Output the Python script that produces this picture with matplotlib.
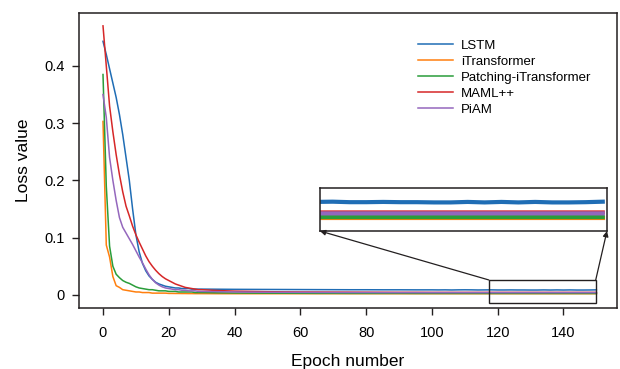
import numpy as np
import matplotlib.pyplot as plt
from matplotlib.patches import Rectangle, ConnectionPatch

plt.rcParams['font.family'] = ['Liberation Sans', 'DejaVu Sans']

epochs = list(range(0, 31)) + list(range(35, 101, 5)) + list(range(102, 151, 2))

lstm = [0.443, 0.420, 0.395, 0.370, 0.345, 0.315, 0.280, 0.240, 0.200, 0.150,
        0.105, 0.075, 0.055, 0.042, 0.033, 0.027, 0.022, 0.019, 0.017, 0.015,
        0.014, 0.013, 0.012, 0.012, 0.011, 0.011, 0.011, 0.010, 0.010, 0.010, 0.010,
        0.0098, 0.0096, 0.0095, 0.0094, 0.0093, 0.0092, 0.0091, 0.0090, 0.0089, 0.0089,
        0.0088, 0.0088, 0.0087, 0.0087,
        0.0086, 0.0087, 0.0085, 0.0087, 0.0088, 0.0087, 0.0085, 0.0086, 0.0087, 0.0085,
        0.0085, 0.0086, 0.0085, 0.0085, 0.0084, 0.0084, 0.0086, 0.0084, 0.0086, 0.0084,
        0.0086, 0.0084, 0.0084, 0.0085, 0.0087]
itrans = [0.303, 0.087, 0.066, 0.032, 0.016, 0.013, 0.009, 0.008, 0.007, 0.006,
          0.005, 0.005, 0.004, 0.004, 0.004, 0.003, 0.003, 0.003, 0.003, 0.003,
          0.0025, 0.0025, 0.0024, 0.0024, 0.0023, 0.0023, 0.0022, 0.0022, 0.0021, 0.0021, 0.0021,
          0.0020, 0.0020, 0.0020, 0.0020, 0.0020, 0.0020, 0.0020, 0.0020, 0.0020, 0.0020,
          0.0020, 0.0020, 0.0020, 0.0020,
          0.0020, 0.0020, 0.0020, 0.0020, 0.0020, 0.0020, 0.0020, 0.0020, 0.0020, 0.0020,
          0.0020, 0.0020, 0.0020, 0.0020, 0.0020, 0.0020, 0.0020, 0.0020, 0.0020, 0.0020,
          0.0020, 0.0020, 0.0020, 0.0020, 0.0020]
patching = [0.385, 0.190, 0.085, 0.050, 0.036, 0.030, 0.025, 0.022, 0.020, 0.017,
            0.014, 0.012, 0.011, 0.010, 0.009, 0.009, 0.008, 0.007, 0.007, 0.007,
            0.006, 0.006, 0.006, 0.005, 0.005, 0.005, 0.005, 0.005, 0.004, 0.004, 0.004,
            0.0035, 0.0032, 0.0030, 0.0029, 0.0028, 0.0027, 0.0026, 0.0026, 0.0025, 0.0025,
            0.0025, 0.0025, 0.0024, 0.0024,
            0.0024, 0.0024, 0.0024, 0.0024, 0.0024, 0.0024, 0.0024, 0.0024, 0.0024, 0.0024,
            0.0024, 0.0024, 0.0024, 0.0024, 0.0024, 0.0024, 0.0024, 0.0024, 0.0024, 0.0024,
            0.0024, 0.0024, 0.0024, 0.0024, 0.0024]
maml = [0.470, 0.400, 0.330, 0.285, 0.245, 0.210, 0.180, 0.155, 0.138, 0.120,
        0.105, 0.092, 0.080, 0.068, 0.058, 0.050, 0.043, 0.037, 0.032, 0.028,
        0.025, 0.022, 0.019, 0.017, 0.015, 0.013, 0.012, 0.011, 0.010, 0.009, 0.009,
        0.0075, 0.0065, 0.0060, 0.0055, 0.0052, 0.0050, 0.0049, 0.0048, 0.0047, 0.0046,
        0.0045, 0.0044, 0.0044, 0.0043,
        0.0043, 0.0043, 0.0043, 0.0043, 0.0043, 0.0043, 0.0043, 0.0043, 0.0043, 0.0043,
        0.0043, 0.0043, 0.0043, 0.0043, 0.0043, 0.0043, 0.0043, 0.0043, 0.0043, 0.0043,
        0.0043, 0.0043, 0.0043, 0.0043, 0.0043]
piam = [0.350, 0.310, 0.240, 0.200, 0.165, 0.135, 0.118, 0.108, 0.098, 0.088,
        0.077, 0.066, 0.056, 0.045, 0.035, 0.027, 0.021, 0.017, 0.014, 0.012,
        0.011, 0.010, 0.009, 0.009, 0.008, 0.008, 0.007, 0.007, 0.007, 0.006, 0.006,
        0.0055, 0.0050, 0.0047, 0.0045, 0.0044, 0.0043, 0.0042, 0.0041, 0.0040, 0.0040,
        0.0039, 0.0039, 0.0039, 0.0039,
        0.0039, 0.0039, 0.0039, 0.0039, 0.0039, 0.0039, 0.0039, 0.0039, 0.0039, 0.0039,
        0.0039, 0.0039, 0.0039, 0.0039, 0.0039, 0.0039, 0.0039, 0.0039, 0.0039, 0.0039,
        0.0039, 0.0039, 0.0039, 0.0039, 0.0039]

names = ['LSTM', 'iTransformer', 'Patching-iTransformer', 'MAML++', 'PiAM']
series = [lstm, itrans, patching, maml, piam]
colors = ['#1f6db5', '#ff7f0e', '#2a9d3a', '#d62728', '#9467bd']
# draw order in the inset: blue on top of the pack, green over orange
inset_order = [1, 2, 3, 4, 0]

zoom_x = (117.3, 149.8)
zoom_y = (-0.014, 0.026)

fig = plt.figure(figsize=(6.2, 3.69), dpi=100)
ax = fig.add_axes([0.1274, 0.1653, 0.8674, 0.7995])

for name, ys, c in zip(names, series, colors):
    ax.plot(epochs, ys, color=c, lw=1.1, label=name)

ax.set_xlim(-7.3, 156.2)
ax.set_ylim(-0.023, 0.4925)
ax.set_xticks(np.arange(0, 141, 20))
ax.set_yticks([0, 0.1, 0.2, 0.3, 0.4], ['0', '0.1', '0.2', '0.3', '0.4'])
ax.tick_params(direction='out', length=5, width=1, labelsize=10.5, color='#231f20')
ax.tick_params(axis='x', pad=8)
ax.tick_params(axis='y', pad=5)
for s in ax.spines.values():
    s.set_linewidth(1.1)
    s.set_color('#231f20')
ax.set_xlabel('Epoch number', fontsize=12.5, labelpad=10)
ax.set_ylabel('Loss value', fontsize=12.5, labelpad=10)

ax.legend(loc='upper left', bbox_to_anchor=(0.608, 0.951), frameon=False,
          fontsize=9.5, handlelength=2.65, handletextpad=0.6, labelspacing=0.29)

# zoom box on the plateau
ax.add_patch(Rectangle((zoom_x[0], zoom_y[0]), zoom_x[1] - zoom_x[0], zoom_y[1] - zoom_y[0],
                       fill=False, ec='#231f20', lw=1.0, zorder=5))

axins = fig.add_axes([0.516, 0.374, 0.463, 0.1165])
for i in inset_order:
    axins.plot(epochs, series[i], color=colors[i], lw=3)
axins.set_xlim(116.5, 150.5)
axins.set_ylim(-0.0033, 0.0143)
axins.set_xticks([])
axins.set_yticks([])
for s in axins.spines.values():
    s.set_linewidth(1.1)
    s.set_color('#231f20')

for xa, xb in [(zoom_x[0], 0), (zoom_x[1], 1)]:
    con = ConnectionPatch(xyA=(xa, zoom_y[1]), coordsA=ax.transData,
                          xyB=(xb, 0), coordsB=axins.transAxes,
                          arrowstyle='-|>', mutation_scale=8, color='#231f20', lw=0.9)
    fig.add_artist(con)

fig.savefig('out.png', dpi=100)
